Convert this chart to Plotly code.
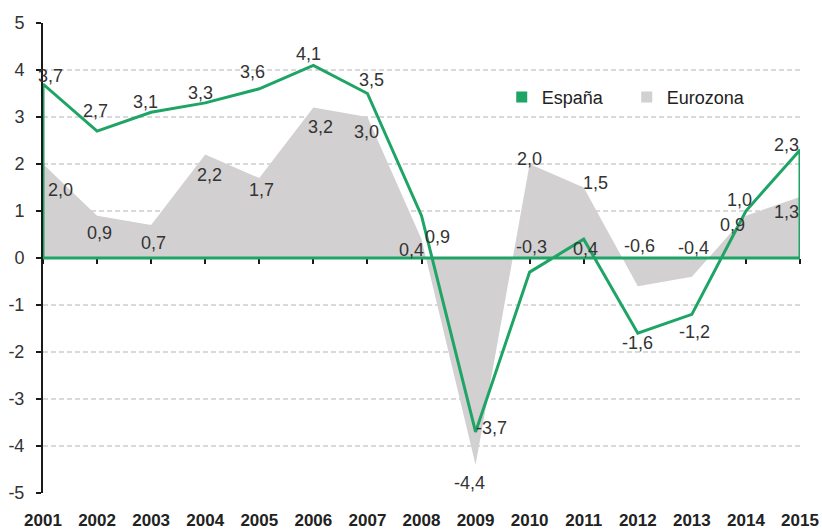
import plotly.graph_objects as go

years = list(range(2001, 2016))
espana = [3.7, 2.7, 3.1, 3.3, 3.6, 4.1, 3.5, 0.9, -3.7, -0.3, 0.4, -1.6, -1.2, 1.0, 2.3]
eurozona = [2.0, 0.9, 0.7, 2.2, 1.7, 3.2, 3.0, 0.4, -4.4, 2.0, 1.5, -0.6, -0.4, 0.9, 1.3]
y_tickvals = [-5, -4, -3, -2, -1, 0, 1, 2, 3, 4, 5]
y_ticktext = ["-5", "-4", "-3", "-2", "-1", "0", "1", "2", "3", "4", "5"]
x_ticktext = [str(y) for y in years]

# label offsets in pixels (dx, dy up)
espana_shift = [(7, 8), (-2, 20), (-6, 10), (-5, 10), (-7, 17), (-5, 11), (4, 14), (16, -21),
                (16, 4), (2, 25), (2, -10), (0, -10), (3, -18), (-6, 11), (-14, 5)]
euro_shift = [(17, -26), (2, -17), (2, -18), (4, -20), (2, -12), (7, -19), (-1, -15), (-10, -11),
              (-6, -18), (0, 5), (12, 5), (2, 40), (2, 29), (-13, -9), (-14, -15)]

GREEN = "#1ea465"
GRAY = "#d2d0d1"
TXT = "#333333"
FONT = "Liberation Sans, Arial, Helvetica, sans-serif"


def fmt(v):
    return f"{v:.1f}".replace(".", ",")


fig = go.Figure()

fig.add_trace(go.Scatter(
    x=years, y=eurozona, mode="lines", fill="tozeroy",
    fillcolor=GRAY, line=dict(width=0, color=GRAY), showlegend=False, hoverinfo="skip"))

# España drawn as closed outline along zero
sx = [years[0]] + years + [years[-1], years[0]]
sy = [0] + espana + [0, 0]
fig.add_trace(go.Scatter(
    x=sx, y=sy, mode="lines", line=dict(color=GREEN, width=3),
    showlegend=False, hoverinfo="skip"))

# legend entries
fig.add_trace(go.Scatter(x=[None], y=[None], mode="markers", name="España",
                         marker=dict(symbol="square", size=11, color=GREEN)))
fig.add_trace(go.Scatter(x=[None], y=[None], mode="markers", name="Eurozona",
                         marker=dict(symbol="square", size=11, color=GRAY)))

# invisible trace on xaxis2 to activate it
fig.add_trace(go.Scatter(x=[years[0], years[-1]], y=[0, 0], xaxis="x2", mode="lines",
                         line=dict(width=0), showlegend=False, hoverinfo="skip"))

annotations = []
for x, v, (dx, dy) in zip(years, espana, espana_shift):
    annotations.append(dict(x=x, y=v, text=fmt(v), showarrow=False, xshift=dx, yshift=dy,
                            font=dict(size=18, color=TXT, family=FONT)))
for x, v, (dx, dy) in zip(years, eurozona, euro_shift):
    annotations.append(dict(x=x, y=v, text=fmt(v), showarrow=False, xshift=dx, yshift=dy,
                            font=dict(size=18, color=TXT, family=FONT)))

# page body has an 8px margin (left/top), so the figure is 8px smaller
fig.update_layout(
    width=814, height=522,
    margin=dict(l=35, r=22, t=15, b=37, autoexpand=False),
    paper_bgcolor="white", plot_bgcolor="white",
    font=dict(family=FONT, color=TXT, size=18),
    annotations=annotations,
    showlegend=True,
    legend=dict(orientation="h", x=0.606, y=0.842, xanchor="left", yanchor="middle",
                font=dict(size=18, color="#222222"), bgcolor="rgba(0,0,0,0)",
                itemwidth=30, traceorder="normal", entrywidth=80, entrywidthmode="pixels"),
    xaxis=dict(range=[2001, 2015], tickvals=years, ticktext=x_ticktext, automargin=False,
               showgrid=False, zeroline=False, showline=False, ticks="",
               tickfont=dict(size=17, color="#222222", family=FONT, weight="bold"),
               ticklabelstandoff=15, ticklabeloverflow="allow"),
    xaxis2=dict(range=[2001, 2015], overlaying="x", anchor="free", position=0.5,
                tickvals=years, showticklabels=False, ticks="outside", ticklen=5,
                tickwidth=1.5, tickcolor="#1a1a1a", showline=True, linecolor="#1a1a1a",
                linewidth=2, showgrid=False, zeroline=False, layer="below traces",
                automargin=False),
    yaxis=dict(range=[-5, 5], tickvals=y_tickvals, ticktext=y_ticktext, automargin=False,
               showgrid=True, gridcolor="#d9d9d9", gridwidth=1.5, griddash="5px,3px",
               zeroline=False, showline=True, linecolor="#1a1a1a", linewidth=2,
               ticks="outside", ticklen=5, tickwidth=1.5, tickcolor="#1a1a1a",
               tickfont=dict(size=18, color=TXT), ticklabelstandoff=8),
)

fig.write_html(
    "out.html",
    post_script="document.body.style.margin='8px 0 0 8px';document.body.style.overflow='hidden';",
)
